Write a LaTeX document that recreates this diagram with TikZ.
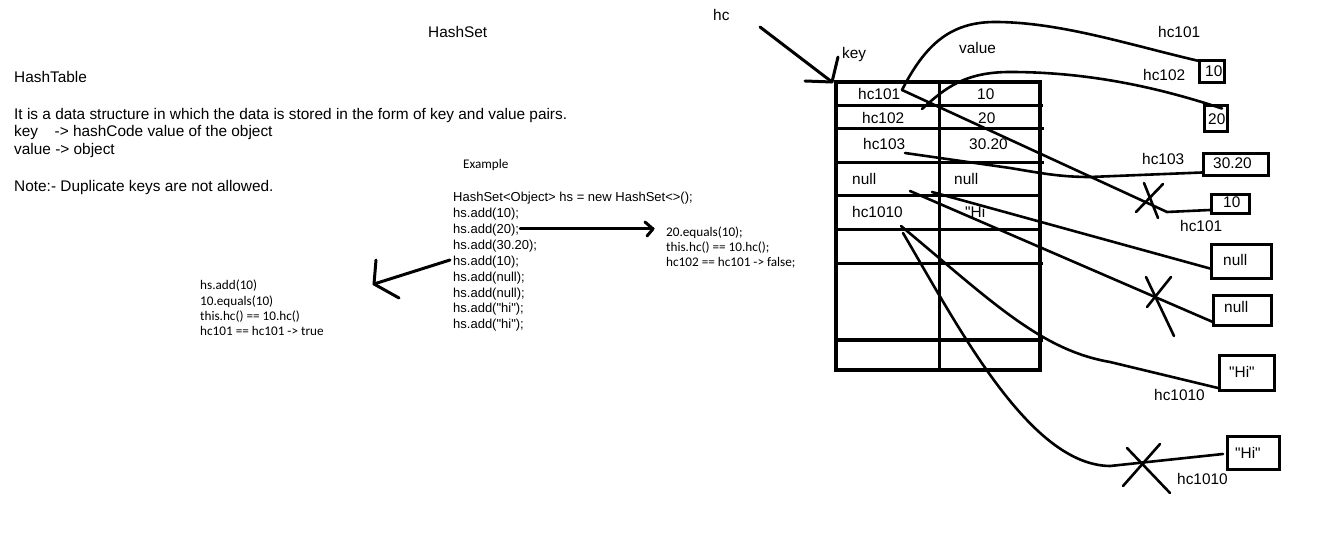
\documentclass[tikz,border=0pt]{standalone}
\usepackage{fontspec}
\setmainfont{Liberation Sans}
\newfontfamily\arialfont{Liberation Sans}
\newfontfamily\calfont{Carlito}
\usetikzlibrary{calc}
\begin{document}
\begin{tikzpicture}[x=1pt,y=-1pt,
  txt/.style={anchor=base west, inner sep=0pt, font=\arialfont\fontsize{15.4}{18}\selectfont},
  code/.style={anchor=base west, inner sep=0pt, font=\arialfont\fontsize{13}{16}\selectfont},
  cal/.style={anchor=base west, inner sep=0pt, font=\calfont\fontsize{13.2}{16}\selectfont},
  box/.style={draw, line width=3pt, inner sep=0pt},
  conn/.style={line width=2.6pt, line cap=round, line join=round},
  pen/.style={line width=3pt, line cap=round, line join=round},
  outer/.style={line width=4.2pt},
  rowline/.style={line width=3pt}]
\useasboundingbox (0,0) rectangle (1335,534);

% ---------- left texts ----------
\node[txt] (title) at (428,37.5) {HashSet};
\node[txt] (ht) at (14,82.5) {HashTable};
\node[txt] (d1) at (14,119.5) {It is a data structure in which the data is stored in the form of key and value pairs.};
\node[txt] (d2) at (14,136.5) {key\hspace{16.5pt}-> hashCode value of the object};
\node[txt] (d3) at (14,154.5) {value -> object};
\node[txt] (note) at (14,191.5) {Note:- Duplicate keys are not allowed.};

% ---------- example code ----------
\node[cal] (ex) at (463,169) {Example};
\node[code] (c1) at (453,201.7) {HashSet<Object> hs = new HashSet<>();};
\node[code] (c2) at (453,217.6) {hs.add(10);};
\node[code] (c3) at (453,233.5) {hs.add(20);};
\node[code] (c4) at (453,249.4) {hs.add(30.20);};
\node[code] (c5) at (453,265.3) {hs.add(10);};
\node[code] (c6) at (453,281.2) {hs.add(null);};
\node[code] (c7) at (453,297.1) {hs.add(null);};
\node[code] (c8) at (453,313.0) {hs.add("hi");};
\node[code] (c9) at (453,328.9) {hs.add("hi");};

\node[cal] (r1) at (666,236.2) {20.equals(10);};
\node[cal] (r2) at (666,251.2) {this.hc() == 10.hc();};
\node[cal] (r3) at (666,266.2) {hc102 == hc101 -> false;};

\node[cal] (l1) at (200,290) {hs.add(10)};
\node[cal] (l2) at (200,305.5) {10.equals(10)};
\node[cal] (l3) at (200,321) {this.hc() == 10.hc()};
\node[cal] (l4) at (200,336) {hc101 == hc101 -> true};

% arrows in the middle
\coordinate (a1s) at (520,229);
\coordinate (a1e) at (653,229);
\draw[pen] (a1s) -- (a1e);
\draw[pen] ($(a1e)+(-8,-7)$) -- (a1e) -- ($(a1e)+(-6,7)$);
\coordinate (a2s) at (450,260);
\coordinate (a2e) at (374,284);
\draw[pen] (a2s) -- (a2e);
\draw[pen] ($(a2e)+(2,-24)$) -- (a2e) -- ($(a2e)+(25,14)$);

% ---------- table ----------
\draw[outer] (836,82) rectangle (1040,370);
\draw[rowline] (939,82) -- (939,370);
\foreach \yy/\xe in {106/1043,129/1044,163/1044,196/1040,230/1040,264/1043,340/1043}
  \draw[rowline] (836,\yy) -- (\xe,\yy);

\node[txt] (hc) at (713,20.4) {hc};
\node[txt] (key) at (842,58.4) {key};
\node[txt] (val) at (959,53.4) {value};
\coordinate (tabNW) at (832,82);
\coordinate (hcS) at (760,27);
\draw[pen] (hcS) -- (tabNW);
\draw[pen] (805,81) -- (tabNW) -- (838,57);

\node[txt] (t101) at (858,99.4) {hc101};
\node[txt] (v10) at (977,99.4) {10};
\node[txt] (t102) at (862,123.4) {hc102};
\node[txt] (v20) at (978,123.4) {20};
\node[txt] (t103) at (863,150) {hc103};
\node[txt] (v3020) at (969,150) {30.20};
\node[txt] (tnull) at (852,184.4) {null};
\node[txt] (vnulltxt) at (954,184.4) {null};
\node[txt] (t1010) at (852,217.4) {hc1010};
\node[txt] (vHi) at (965,217.4) {"Hi};

% ---------- right boxes ----------
\node[box, minimum width=25pt, minimum height=22pt] (B10) at (1212,71.5) {};
\node[box, minimum width=23pt, minimum height=26pt] (B20) at (1216,118.5) {};
\node[box, minimum width=65pt, minimum height=22pt] (B3020) at (1236,164.5) {};
\node[box, minimum width=38pt, minimum height=19pt] (B10b) at (1230.5,204) {};
\node[box, minimum width=60pt, minimum height=34pt] (Bnull1) at (1241.5,261.5) {};
\node[box, minimum width=58pt, minimum height=30pt] (Bnull2) at (1242.5,310.5) {};
\node[box, minimum width=55pt, minimum height=35pt] (BHi1) at (1247,373) {};
\node[box, minimum width=52pt, minimum height=33pt] (BHi2) at (1253.5,453) {};

\node[txt] (b10t) at (1205,76.4) {10};
\node[txt] (b20t) at (1208,124.4) {20};
\node[txt] (b3020t) at (1213,168.4) {30.20};
\node[txt] (b10bt) at (1223,207.4) {10};
\node[txt] (bn1t) at (1223,265.4) {null};
\node[txt] (bn2t) at (1224,312.4) {null};
\node[txt] (bh1t) at (1229,377.4) {"Hi"};
\node[txt] (bh2t) at (1235,458.4) {"Hi"};

\node[txt] (lab101) at (1158,37.4) {hc101};
\node[txt] (lab102) at (1143,80.4) {hc102};
\node[txt] (lab103) at (1142,164.4) {hc103};
\node[txt] (lab101b) at (1180,231.4) {hc101};
\node[txt] (lab1010) at (1154,400.4) {hc1010};
\node[txt] (lab1010b) at (1177,484.4) {hc1010};

% ---------- connectors ----------
\coordinate (k101) at (902,90);
\coordinate (k102) at (922,109);
\coordinate (k103) at (905,153);
\coordinate (knull) at (910,191);
\coordinate (vnull) at (932,192);
\coordinate (k1010a) at (901,226);
\coordinate (k1010b) at (903,233);

\draw[conn] (k101) .. controls (925,45) and (950,22) .. (995,22)
  .. controls (1060,22) and (1130,45) .. ($(B10.north west)+(1,2)$);
\draw[conn] (k102) .. controls (945,88) and (965,72) .. (1010,72)
  .. controls (1090,72) and (1160,88) .. ($(B20.north east)+(-7,4.5)$);
\draw[conn] (k103) -- (1010,168) .. controls (1040,173) and (1060,177) .. (1090,177)
  -- ($(B3020.west)+(0,8)$);
\draw[conn] (k101) -- (1167,212) -- ($(B10b.west)+(0,6)$);
\draw[conn] (knull) -- ($(Bnull2.west)+(2,12)$);
\draw[conn] (vnull) -- ($(Bnull1.west)+(0,7)$);
\draw[conn] (k1010a) .. controls (990,300) and (1040,350) .. (1110,362)
  -- ($(BHi1.west)+(0,15)$);
\draw[conn] (k1010b) .. controls (960,330) and (1030,465) .. (1110,466)
  -- ($(BHi2.west)+(-3,1)$);

% crosses
\draw[conn] (1136,212) -- (1163,184);
\draw[conn] (1144,183) -- (1158,218);
\draw[conn] (1146,277) -- (1174,336);
\draw[conn] (1147,307) -- (1171,277);
\draw[conn] (1127,448) -- (1170,493);
\draw[conn] (1123,486) -- (1160,444);
\end{tikzpicture}
\end{document}
